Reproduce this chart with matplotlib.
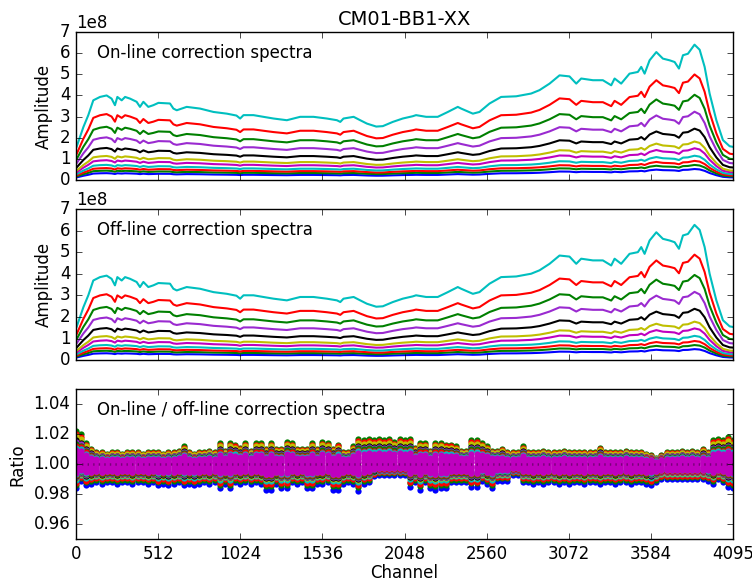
import numpy as np
import matplotlib
matplotlib.use("Agg")
import matplotlib.pyplot as plt

# top (brightest) spectrum, amplitude in units of 1e8
spec_ch = [0, 4, 46, 77, 108, 150, 191, 222, 243, 258, 285, 306, 337, 378, 399, 420,
           451, 482, 514, 586, 607, 628, 659, 690, 773, 857, 940, 1000, 1023, 1044,
           1106, 1168, 1231, 1314, 1397, 1480, 1563, 1626, 1647, 1667, 1730, 1771,
           1813, 1871, 1912, 1974, 2036, 2099, 2119, 2182, 2254, 2317, 2379, 2400,
           2473, 2514, 2577, 2649, 2743, 2836, 2888, 2951, 3013, 3075, 3117, 3148,
           3221, 3283, 3335, 3356, 3397, 3449, 3501, 3522, 3543, 3574, 3616, 3657,
           3699, 3730, 3757, 3782, 3813, 3854, 3886, 3917, 3948, 3990, 4031, 4073, 4095]
spec_top = [1.50, 1.57, 2.50, 3.07, 3.77, 3.93, 4.00, 3.85, 3.54, 3.93, 3.77, 3.93,
            3.85, 3.70, 3.46, 3.70, 3.46, 3.54, 3.65, 3.62, 3.38, 3.30, 3.38, 3.46,
            3.38, 3.22, 3.14, 3.05, 2.91, 3.07, 3.07, 2.99, 2.91, 2.83, 2.99, 2.99,
            2.91, 2.83, 2.75, 2.91, 2.99, 2.83, 2.67, 2.53, 2.55, 2.75, 2.91, 3.02,
            3.07, 2.99, 2.99, 3.22, 3.46, 3.38, 3.14, 3.22, 3.62, 3.93, 3.96, 4.09,
            4.25, 4.56, 4.95, 4.90, 4.56, 4.80, 4.72, 4.72, 4.48, 4.80, 4.56, 5.03,
            5.11, 5.35, 5.03, 5.66, 6.05, 5.74, 5.66, 5.58, 5.27, 5.90, 5.97, 6.40,
            6.16, 5.35, 4.09, 2.83, 1.89, 1.60, 1.57]

# relative level of each spectrum, bottom to top
levels = [0.082, 0.112, 0.142, 0.18, 0.235, 0.285, 0.38, 0.505, 0.63, 0.78, 1.0]
spec_colors = ['b', 'g', 'r', 'c', 'm', 'y', 'k', '#9a2ad0', 'g', 'r', 'c']
offline_gain = 0.98

# ratio panel: outer envelope of the scatter every 32 channels (units of 1e-3)
ratio_ch = list(range(0, 4096, 32)) + [4095]
ratio_hi = [22, 20, 14, 10, 8, 8, 7, 8, 8, 7, 8, 8, 8, 7, 8, 8,
            8, 7, 8, 8, 9, 12, 8, 7, 8, 8, 9, 8, 14, 9, 14, 13,
            11, 14, 9, 14, 14, 10, 14, 10, 10, 15, 14, 10, 10, 10, 14, 10,
            15, 14, 10, 13, 8, 8, 12, 17, 16, 17, 16, 17, 16, 17, 15, 17,
            16, 17, 11, 14, 14, 9, 14, 14, 13, 13, 12, 9, 9, 16, 16, 14,
            12, 9, 9, 10, 8, 8, 8, 12, 8, 8, 8, 9, 8, 8, 8, 9,
            8, 8, 8, 8, 8, 8, 11, 8, 8, 8, 8, 9, 8, 8, 8, 7,
            6, 4, 6, 8, 8, 8, 9, 8, 9, 8, 10, 8, 16, 17, 16, 18, 16]
ratio_lo = [16, 11, 14, 13, 12, 13, 12, 12, 13, 12, 12, 13, 12, 12, 13, 12,
            14, 13, 14, 13, 12, 14, 13, 14, 13, 12, 13, 12, 16, 13, 16, 12,
            13, 12, 13, 12, 13, 17, 17, 13, 16, 16, 12, 13, 12, 16, 16, 13,
            13, 12, 17, 17, 13, 12, 13, 18, 13, 12, 8, 7, 7, 7, 7, 7,
            7, 15, 12, 17, 12, 16, 17, 16, 16, 12, 12, 12, 12, 15, 15, 11,
            13, 16, 11, 11, 11, 7, 7, 12, 12, 13, 12, 13, 12, 12, 13, 12,
            13, 12, 12, 13, 12, 12, 13, 12, 12, 13, 12, 12, 13, 12, 12, 13,
            14, 12, 10, 10, 10, 10, 10, 10, 10, 10, 10, 11, 13, 10, 12, 15, 16]
# per-series share of the envelope (upper, lower), drawn in this order
ratio_colors = ['b', 'g', 'r', 'c', 'y', 'k', '#9a2ad0', 'g', 'r', 'c',
                'm', 'm', 'm', 'm']
ratio_up = [0.60, 1.00, 0.92, 0.80, 0.85, 0.72, 0.68, 0.62, 0.56, 0.50,
            0.44, 0.32, 0.20, 0.08]
ratio_dn = [1.00, 0.85, 0.78, 0.66, 0.58, 0.55, 0.52, 0.48, 0.44, 0.40,
            0.38, 0.28, 0.17, 0.07]

xticks = [0, 512, 1024, 1536, 2048, 2560, 3072, 3584, 4095]

plt.style.use('classic')
plt.rcParams['figure.facecolor'] = 'white'
plt.rcParams['savefig.facecolor'] = 'white'
plt.rcParams['font.family'] = ['DejaVu Sans']

fig = plt.figure(figsize=(7.52, 5.81), dpi=100)
ax1 = fig.add_axes([0.101, 0.690, 0.874, 0.255])
ax2 = fig.add_axes([0.101, 0.380, 0.874, 0.260])
ax3 = fig.add_axes([0.101, 0.072, 0.874, 0.258])

ch = np.array(spec_ch)
top = np.array(spec_top) * 1e8
for ax, gain, label in [(ax1, 1.0, 'On-line correction spectra'),
                        (ax2, offline_gain, 'Off-line correction spectra')]:
    for lv, col in zip(levels, spec_colors):
        ax.plot(ch, top * lv * gain, color=col, lw=1.5)
    ax.set_xlim(0, 4095)
    ax.set_ylim(0, 7e8)
    ax.set_yticks(np.arange(0, 8) * 1e8)
    ax.set_xticks(xticks)
    ax.set_xticklabels([])
    ax.set_ylabel('Amplitude')
    ax.text(0.032, 0.86, label, transform=ax.transAxes, fontsize=12, va='center')

ax1.set_title('CM01-BB1-XX', fontsize=14)

rch = np.array(ratio_ch)
hi = np.array(ratio_hi) * 1e-3
lo = -np.array(ratio_lo) * 1e-3
for col, su, sd in zip(ratio_colors, ratio_up, ratio_dn):
    ax3.plot(rch, 1 + hi * su, 'o', color=col, ms=4.5, mew=0)
    ax3.plot(rch, 1 + lo * sd, 'o', color=col, ms=4.5, mew=0)
ax3.plot(rch, np.ones(len(rch)), ':', color='#780078', lw=1.8)
ax3.set_xlim(0, 4095)
ax3.set_ylim(0.95, 1.05)
ax3.set_yticks([0.96, 0.98, 1.00, 1.02, 1.04])
ax3.set_yticklabels(['0.96', '0.98', '1.00', '1.02', '1.04'])
ax3.set_xticks(xticks)
ax3.set_xlabel('Channel', labelpad=1)
ax3.set_ylabel('Ratio')
ax3.text(0.032, 0.86, 'On-line / off-line correction spectra', transform=ax3.transAxes,
         fontsize=12, va='center')

fig.savefig('out.png', dpi=100)
